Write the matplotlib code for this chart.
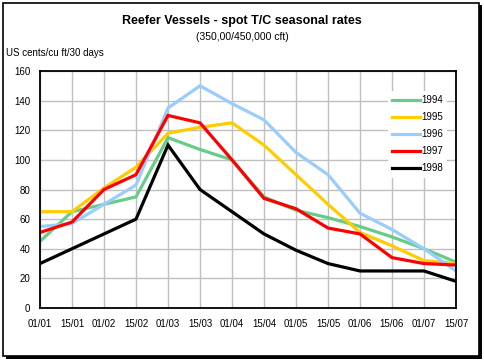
import matplotlib
matplotlib.use("Agg")
import matplotlib.pyplot as plt
from matplotlib.patches import Rectangle

plt.rcParams['font.family'] = ['Liberation Sans', 'DejaVu Sans']

dates = ["01/01", "15/01", "01/02", "15/02", "01/03", "15/03", "01/04",
         "15/04", "01/05", "15/05", "01/06", "15/06", "01/07", "15/07"]
y1994 = [45, 65, 70, 75, 115, 107, 100, 75, 66, 61, 55, 48, 40, 31]
y1995 = [65, 65, 81, 95, 118, 122, 125, 110, 90, 70, 51, 42, 32, 30]
y1996 = [55, 57, 70, 83, 135, 150, 138, 127, 105, 90, 64, 53, 40, 25]
y1997 = [51, 58, 80, 90, 130, 125, 100, 74, 67, 54, 50, 34, 30, 29]
y1998 = [30, 40, 50, 60, 110, 80, 65, 50, 39, 30, 25, 25, 25, 18]
series = [("1994", y1994, "#66CC88"), ("1995", y1995, "#FFCC00"),
          ("1996", y1996, "#99CCFF"), ("1997", y1997, "#FF0000"),
          ("1998", y1998, "#000000")]

W, H = 485, 362
fig = plt.figure(figsize=(W/100, H/100), dpi=100)
fig.patch.set_facecolor("white")

# outer frame with shadow
fig.add_artist(Rectangle((6/W, 1 - 359/H), 476/W, 354/H, transform=fig.transFigure,
                         facecolor="black", edgecolor="none", zorder=0))
fig.add_artist(Rectangle((3/W, 1 - 356/H), 476/W, 353/H, transform=fig.transFigure,
                         facecolor="white", edgecolor="black", linewidth=1.2, zorder=0.5))

ax = fig.add_axes([40/W, 1 - 308/H, 416/W, 237/H])
ax.set_zorder(2)
x = list(range(len(dates)))
for name, vals, col in series:
    ax.plot(x, vals, color=col, linewidth=2.3, label=name, solid_joinstyle='miter')

ax.set_xlim(0, len(dates) - 1)
ax.set_ylim(0, 160)
ax.set_yticks(range(0, 161, 20))
ax.set_xticks(x)
ax.set_xticklabels(dates)
ax.grid(True, color="#C0C0C0", linewidth=1)
ax.set_axisbelow(True)
ax.tick_params(length=0, labelsize=7, pad=8)
ax.tick_params(axis='y', pad=7)
for s in ax.spines.values():
    s.set_linewidth(1.3)
    s.set_color("black")

leg = ax.legend(loc="upper left", bbox_to_anchor=(388/W, 1 - 91/H),
                bbox_transform=fig.transFigure, frameon=True, fontsize=7,
                handlelength=2.8, handletextpad=0.15, labelspacing=0.72,
                borderpad=0.45, borderaxespad=0)
leg.get_frame().set_facecolor("white")
leg.get_frame().set_edgecolor("none")
leg.get_frame().set_alpha(1)

fig.text(242/W, 1 - 21/H, "Reefer Vessels - spot T/C seasonal rates",
         ha="center", va="center", fontsize=9, fontweight="bold")
fig.text(242/W, 1 - 37/H, "(350,00/450,000 cft)", ha="center", va="center", fontsize=7.5)
fig.text(6/W, 1 - 53/H, "US cents/cu ft/30 days", ha="left", va="center", fontsize=7)

fig.savefig("out.png", dpi=100)
